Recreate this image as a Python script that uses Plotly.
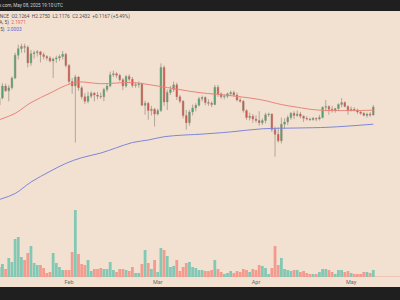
import math
import pandas as pd
import plotly.graph_objects as go

# ---------------- data ----------------
dates = pd.date_range("2025-01-10", "2025-05-08", freq="D")

opens = [2.27, 2.38, 2.58, 2.50, 2.55, 2.72, 3.17, 3.31, 3.36, 3.34, 3.01, 3.20, 3.22, 3.24, 3.18, 3.14, 3.11, 3.05, 3.09, 3.11, 3.14, 3.19,
         2.96, 2.66, 2.58, 2.74, 2.55, 2.40, 2.33, 2.41, 2.46, 2.43, 2.41, 2.40, 2.52, 2.58, 2.78, 2.80, 2.77, 2.69, 2.58, 2.75, 2.70, 2.59, 2.60, 2.62, 2.27, 2.30, 2.19, 2.21,
         2.14, 2.19, 2.92, 2.32, 2.47, 2.52, 2.60, 2.40, 2.33, 2.12, 2.02, 2.17, 2.23, 2.27, 2.37, 2.39, 2.31, 2.30, 2.28, 2.56, 2.45, 2.40, 2.41, 2.45, 2.47, 2.43, 2.35, 2.33, 2.19, 2.09, 2.11,
         2.07, 2.05, 2.02, 2.05, 2.13, 2.14, 1.93, 1.87, 1.79, 2.00, 2.03, 2.09, 2.15, 2.12, 2.14, 2.11, 2.08, 2.07, 2.06, 2.08, 2.07, 2.09, 2.24, 2.25, 2.21, 2.19, 2.22, 2.28, 2.31, 2.25,
         2.19, 2.21, 2.20, 2.17, 2.15, 2.12, 2.14, 2.1264]
highs = [2.40, 2.63, 2.62, 2.60, 2.75, 3.22, 3.40, 3.42, 3.42, 3.38, 3.28, 3.27, 3.28, 3.26, 3.23, 3.17, 3.15, 3.12, 3.16, 3.18, 3.26, 3.22,
         2.99, 2.72, 2.78, 2.76, 2.58, 2.46, 2.48, 2.49, 2.48, 2.48, 2.47, 2.55, 2.62, 2.84, 2.86, 2.83, 2.80, 2.72, 2.78, 2.79, 2.74, 2.64, 2.66, 2.64, 2.34, 2.32, 2.26, 2.23,
         2.22, 3.00, 2.96, 2.52, 2.58, 2.66, 2.64, 2.43, 2.35, 2.20, 2.20, 2.28, 2.30, 2.40, 2.42, 2.41, 2.36, 2.33, 2.60, 2.60, 2.47, 2.44, 2.47, 2.50, 2.50, 2.47, 2.39, 2.35, 2.21, 2.16, 2.14,
         2.12, 2.18, 2.08, 2.16, 2.16, 2.15, 1.97, 1.96, 2.09, 2.08, 2.12, 2.17, 2.18, 2.19, 2.17, 2.12, 2.11, 2.09, 2.10, 2.09, 2.13, 2.25, 2.35, 2.27, 2.26, 2.23, 2.30, 2.38, 2.33, 2.27,
         2.25, 2.24, 2.22, 2.19, 2.17, 2.16, 2.17, 2.2750]
lows = [2.22, 2.36, 2.48, 2.33, 2.52, 2.70, 3.08, 3.22, 3.22, 2.92, 2.95, 3.10, 3.14, 3.02, 3.08, 3.06, 3.02, 2.72, 3.01, 3.05, 3.08, 2.92,
        2.62, 2.45, 1.77, 2.50, 2.36, 2.29, 2.30, 2.38, 2.33, 2.36, 2.37, 2.33, 2.48, 2.56, 2.74, 2.72, 2.66, 2.51, 2.55, 2.66, 2.55, 2.55, 2.55, 2.26, 2.13, 2.06, 2.12, 1.97,
        2.12, 2.17, 2.26, 2.20, 2.43, 2.48, 2.35, 2.30, 2.08, 1.93, 1.98, 2.12, 2.18, 2.25, 2.33, 2.27, 2.26, 2.24, 2.27, 2.40, 2.37, 2.36, 2.38, 2.41, 2.40, 2.33, 2.31, 2.16, 2.06, 2.05, 2.02,
        2.02, 1.98, 1.99, 2.01, 2.10, 1.90, 1.61, 1.77, 1.76, 1.94, 1.99, 2.06, 2.07, 2.10, 2.08, 2.03, 2.05, 2.05, 2.05, 2.04, 2.05, 2.08, 2.18, 2.13, 2.16, 2.16, 2.20, 2.24, 2.24, 2.13,
        2.18, 2.18, 2.14, 2.13, 2.11, 2.09, 2.10, 2.1176]
closes = [2.38, 2.58, 2.50, 2.55, 2.72, 3.17, 3.31, 3.36, 3.34, 3.01, 3.20, 3.22, 3.24, 3.18, 3.14, 3.11, 3.05, 3.09, 3.11, 3.14, 3.19, 2.96,
          2.66, 2.58, 2.74, 2.55, 2.40, 2.33, 2.41, 2.46, 2.43, 2.41, 2.40, 2.52, 2.58, 2.78, 2.80, 2.77, 2.69, 2.58, 2.75, 2.70, 2.59, 2.60, 2.62, 2.27, 2.30, 2.19, 2.21, 2.14,
          2.19, 2.92, 2.32, 2.47, 2.52, 2.60, 2.40, 2.33, 2.12, 2.02, 2.17, 2.23, 2.27, 2.37, 2.39, 2.31, 2.30, 2.28, 2.56, 2.45, 2.40, 2.41, 2.45, 2.47, 2.43, 2.35, 2.33, 2.19, 2.09, 2.11, 2.07,
          2.05, 2.02, 2.05, 2.13, 2.14, 1.93, 1.87, 1.79, 2.00, 2.03, 2.09, 2.15, 2.12, 2.14, 2.11, 2.08, 2.07, 2.06, 2.08, 2.07, 2.09, 2.24, 2.25, 2.21, 2.19, 2.22, 2.28, 2.31, 2.25, 2.19,
          2.21, 2.20, 2.17, 2.15, 2.12, 2.14, 2.1264, 2.2432]
volumes = [300, 390, 240, 570, 450, 1140, 1200, 600, 510, 720, 930, 420, 360, 360, 270, 120, 150, 720, 420, 300, 210, 210,
           210, 750, 2010, 690, 390, 360, 510, 180, 240, 240, 270, 240, 240, 450, 210, 150, 240, 240, 210, 180, 300, 120, 120, 390, 810, 420, 240, 510,
           150, 870, 810, 630, 300, 330, 510, 180, 300, 420, 450, 300, 270, 210, 210, 180, 180, 210, 510, 240, 150, 90, 120, 180, 120, 180, 150, 240, 210, 150, 240,
           210, 360, 330, 270, 90, 270, 930, 360, 570, 240, 210, 180, 210, 210, 150, 180, 120, 90, 90, 90, 150, 240, 240, 210, 150, 90, 210, 210, 150, 180,
           120, 90, 90, 90, 150, 150, 120, 210]

ma_fast_dates = ["2025-01-10", "2025-01-15", "2025-01-20", "2025-01-26", "2025-01-31", "2025-02-04", "2025-02-11",
                 "2025-02-21", "2025-03-01", "2025-03-14", "2025-03-24", "2025-04-03", "2025-04-09", "2025-04-14",
                 "2025-04-20", "2025-05-01", "2025-05-08"]
ma_fast = [2.06, 2.15, 2.31, 2.46, 2.59, 2.65, 2.62, 2.64, 2.58, 2.47, 2.42, 2.35, 2.28, 2.24, 2.20, 2.19, 2.1971]

ma_slow_dates = ["2025-01-10", "2025-01-15", "2025-01-20", "2025-01-26", "2025-01-31", "2025-02-05", "2025-02-11",
                 "2025-02-16", "2025-02-21", "2025-02-26", "2025-03-03", "2025-03-09", "2025-03-14", "2025-03-24",
                 "2025-04-03", "2025-04-14", "2025-04-24", "2025-05-08"]
ma_slow = [1.21, 1.26, 1.36, 1.46, 1.54, 1.60, 1.65, 1.71, 1.77, 1.80, 1.84, 1.86, 1.87, 1.90, 1.94, 1.95, 1.96, 2.0003]

month_ticks = ["2025-02-01", "2025-03-01", "2025-04-01", "2025-05-01"]
month_labels = ["Feb", "Mar", "Apr", "May"]

# ---------------- style ----------------
BG = "#f2e1d1"
DARK = "#1f1f1f"
UP = "#53a06d"
DOWN = "#d0574b"
UP_VOL = "#82c8b5"
DOWN_VOL = "#f29b8e"
WICK = "#b3a598"
MA_FAST_C = "#e8847b"
MA_SLOW_C = "#7e86d8"
FONT = "Roboto"

W, H = 400, 300
TOP, BOT = 11, 23
plot_h = H - TOP - BOT

def py(px):  # pixel row -> paper y
    return (H - BOT - px) / plot_h

vol_colors = [UP_VOL if c >= o else DOWN_VOL for o, c in zip(opens, closes)]

fig = go.Figure()

fig.add_trace(go.Bar(x=dates, y=volumes, marker_color=vol_colors, marker_line_width=0,
                     yaxis="y", hoverinfo="skip"))

# wicks
fig.add_trace(go.Candlestick(x=dates, open=opens, high=highs, low=lows, close=closes, yaxis="y2",
                             increasing=dict(line=dict(color=WICK, width=1), fillcolor=WICK),
                             decreasing=dict(line=dict(color=WICK, width=1), fillcolor=WICK),
                             whiskerwidth=0, hoverinfo="skip"))
# bodies
fig.add_trace(go.Candlestick(x=dates, open=opens, high=highs, low=lows, close=closes, yaxis="y2",
                             increasing=dict(line=dict(color=UP, width=0), fillcolor=UP),
                             decreasing=dict(line=dict(color=DOWN, width=0), fillcolor=DOWN),
                             whiskerwidth=0, hoverinfo="skip"))

fig.add_trace(go.Scatter(x=ma_fast_dates, y=ma_fast, yaxis="y2", mode="lines",
                         line=dict(color=MA_FAST_C, width=1, shape="spline", smoothing=1.0), hoverinfo="skip"))
fig.add_trace(go.Scatter(x=ma_slow_dates, y=ma_slow, yaxis="y2", mode="lines",
                         line=dict(color=MA_SLOW_C, width=1, shape="spline", smoothing=1.0), hoverinfo="skip"))

# price scale: log, mapped to match reference framing
last_close = closes[-1]
p_top = 0.628817
p_bot = -0.141327

fig.update_layout(
    width=W, height=H,
    margin=dict(l=0, r=0, t=TOP, b=BOT, pad=0),
    paper_bgcolor=BG, plot_bgcolor=BG,
    showlegend=False,
    bargap=0.12,
    boxgap=0.35,
    xaxis=dict(type="date", range=["2025-01-10 05:36", "2025-05-16 10:05"],
               rangeslider=dict(visible=False), showgrid=False, zeroline=False, showline=False,
               tickvals=month_ticks, ticktext=month_labels, ticks="",
               tickfont=dict(family=FONT, size=5.5, color="#6a6a6a")),
    yaxis=dict(range=[0, 7980], visible=False, showgrid=False, zeroline=False),
    yaxis2=dict(type="log", overlaying="y", range=[p_bot, p_top], visible=False,
                showgrid=False, zeroline=False),
    shapes=[
        dict(type="rect", xref="paper", yref="paper", x0=0, x1=1, y0=1, y1=py(-2),
             fillcolor=DARK, line=dict(width=0), layer="above"),
        dict(type="rect", xref="paper", yref="paper", x0=0, x1=1, y0=py(287), y1=py(302),
             fillcolor=DARK, line=dict(width=0), layer="above"),
        dict(type="line", xref="paper", yref="y", x0=0, x1=1, y0=0, y1=0,
             line=dict(color="#eea497", width=1), layer="below"),
        dict(type="line", xref="paper", yref="y2", x0=0, x1=1,
             y0=math.log10(last_close), y1=math.log10(last_close),
             line=dict(color="rgba(120,150,120,0.25)", width=1, dash="dot"), layer="below"),
    ],
)

ann = [
    dict(text="TradingView.com, May 08, 2025 19:10 UTC", x=65 / W, y=py(5.5), xanchor="right",
         font=dict(family=FONT, size=4.6, color="#cfcfcf")),
    dict(text="XRPUSDT · 1D · BINANCE  O2.1264  H2.2750  L2.1176  C2.2432  +0.1167 (+5.49%)",
         x=132 / W, y=py(16), xanchor="right", font=dict(family=FONT, size=4.8, color="#4d4d4d")),
    dict(text="MA (50, close, 0, SMA, 5)  <span style='color:#e0645c'>2.1971</span>",
         x=28 / W, y=py(22.5), xanchor="right", font=dict(family=FONT, size=4.8, color="#4d4d4d")),
    dict(text="MA (200, close, 0, SMA, 5)  <span style='color:#5d68d4'>2.0003</span>",
         x=24 / W, y=py(29), xanchor="right", font=dict(family=FONT, size=4.8, color="#4d4d4d")),
]
for a in ann:
    a.update(xref="paper", yref="paper", showarrow=False, yanchor="middle")
fig.update_layout(annotations=ann)

fig.write_html("out.html")
